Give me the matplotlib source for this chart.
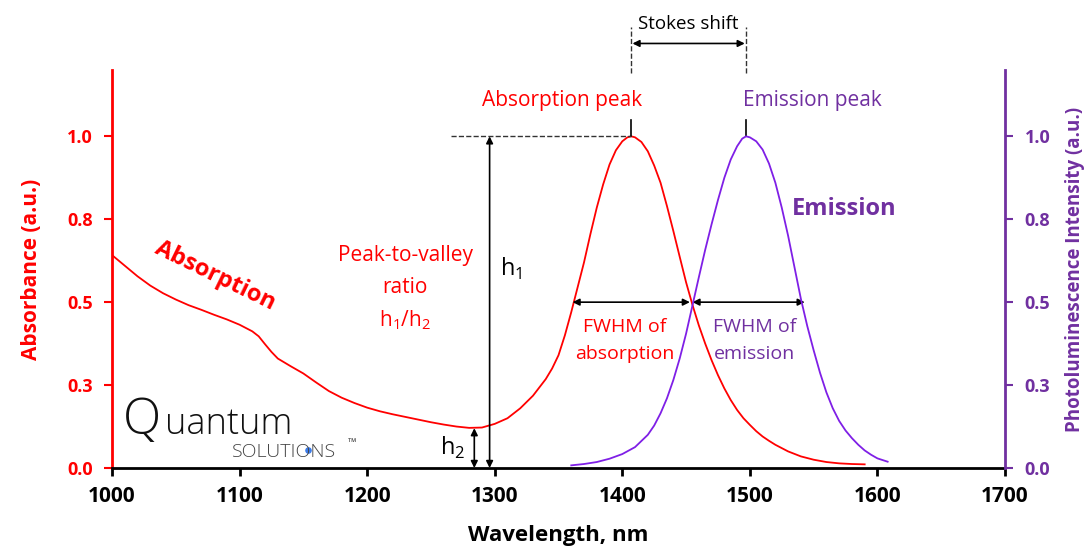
import matplotlib
matplotlib.use('Agg')
import matplotlib.pyplot as plt

plt.rcParams['font.family'] = ['Open Sans', 'DejaVu Sans']
plt.rcParams['mathtext.fontset'] = 'custom'
plt.rcParams['mathtext.rm'] = 'Open Sans'

# ---------------- data ----------------
abs_wl = [1000, 1010, 1020, 1030, 1040, 1050, 1060, 1070, 1080, 1090, 1100, 1110, 1115,
          1120, 1125, 1130, 1140, 1150, 1160, 1170, 1180, 1190, 1200, 1210, 1220, 1230,
          1240, 1250, 1260, 1270, 1280, 1290, 1300, 1310, 1320, 1330, 1340, 1345, 1350,
          1355, 1360, 1365, 1370, 1375, 1380, 1385, 1390, 1395, 1400, 1404, 1407, 1410,
          1415, 1420, 1425, 1430, 1435, 1440, 1445, 1450, 1455, 1460, 1465, 1470, 1475,
          1480, 1485, 1490, 1495, 1500, 1505, 1510, 1515, 1520, 1530, 1540, 1550, 1560,
          1570, 1580, 1590]
abs_val = [0.642, 0.610, 0.578, 0.550, 0.527, 0.508, 0.491, 0.477, 0.462, 0.448, 0.432, 0.412, 0.397,
           0.373, 0.350, 0.330, 0.307, 0.285, 0.258, 0.232, 0.212, 0.196, 0.182, 0.171, 0.162, 0.154,
           0.146, 0.138, 0.131, 0.125, 0.121, 0.122, 0.133, 0.150, 0.180, 0.218, 0.268, 0.300, 0.340,
           0.400, 0.470, 0.545, 0.620, 0.705, 0.785, 0.855, 0.915, 0.958, 0.985, 0.997, 1.000, 0.997,
           0.983, 0.955, 0.912, 0.860, 0.790, 0.715, 0.637, 0.560, 0.492, 0.430, 0.375, 0.325, 0.280,
           0.240, 0.205, 0.175, 0.150, 0.130, 0.111, 0.095, 0.082, 0.070, 0.050, 0.035, 0.025, 0.018,
           0.014, 0.012, 0.011]

em_wl = [1360, 1370, 1380, 1390, 1400, 1410, 1420, 1425, 1430, 1435, 1440, 1445, 1450, 1455,
         1460, 1465, 1470, 1475, 1480, 1485, 1490, 1494, 1497, 1500, 1505, 1510, 1515, 1520,
         1525, 1530, 1535, 1540, 1545, 1550, 1555, 1560, 1565, 1570, 1575, 1580, 1585, 1590,
         1595, 1600, 1608]
em_val = [0.008, 0.012, 0.018, 0.028, 0.042, 0.063, 0.100, 0.128, 0.165, 0.210, 0.265, 0.330, 0.405, 0.490,
          0.575, 0.658, 0.735, 0.808, 0.875, 0.930, 0.970, 0.993, 1.000, 0.997, 0.985, 0.960, 0.918, 0.860,
          0.785, 0.700, 0.605, 0.510, 0.428, 0.355, 0.287, 0.228, 0.180, 0.142, 0.113, 0.090, 0.070, 0.053,
          0.040, 0.029, 0.019]

x_ticks = [1000, 1100, 1200, 1300, 1400, 1500, 1600, 1700]
y_ticks = [0.0, 0.25, 0.5, 0.75, 1.0]
y_ticklabels = ['0.0', '0.3', '0.5', '0.8', '1.0']

abs_peak = 1407
em_peak = 1497
valley_wl = 1284
valley_val = 0.12
h1_wl = 1296
abs_fwhm = (1361, 1453)
em_fwhm = (1455, 1543)

RED = '#FF0000'
PURPLE_TXT = '#7030A0'
PURPLE_LINE = '#7F1FE6'

fig = plt.figure(figsize=(10.88, 5.49), dpi=100)
ax = fig.add_axes([112 / 1088, 81 / 549, 893 / 1088, 398 / 549])
ax2 = ax.twinx()

ax.plot(abs_wl, abs_val, color=RED, lw=1.3)
ax2.plot(em_wl, em_val, color=PURPLE_LINE, lw=1.3)

ax.set_xlim(1000, 1700)
ax.set_ylim(0, 1.2)
ax2.set_ylim(0, 1.2)

ax.set_xticks(x_ticks)
ax.set_xticklabels([str(t) for t in x_ticks], fontsize=15, fontweight='bold')
ax.set_yticks(y_ticks)
ax.set_yticklabels(y_ticklabels, fontsize=13, fontweight='bold', color=RED)
ax2.set_yticks(y_ticks)
ax2.set_yticklabels(y_ticklabels, fontsize=13, fontweight='bold', color=PURPLE_TXT)

for s in ['top', 'right']:
    ax.spines[s].set_visible(False)
for s in ['top', 'left', 'bottom']:
    ax2.spines[s].set_visible(False)
ax.spines['left'].set_color(RED)
ax.spines['left'].set_linewidth(2)
ax.spines['bottom'].set_color('black')
ax.spines['bottom'].set_linewidth(2)
ax2.spines['right'].set_color(PURPLE_TXT)
ax2.spines['right'].set_linewidth(2)

ax.tick_params(axis='x', direction='out', length=6, width=2, color='black', pad=7)
ax.tick_params(axis='y', direction='out', length=6, width=1.5, color=RED, pad=8)
ax2.tick_params(axis='y', direction='out', length=6, width=1.5, color=PURPLE_TXT, pad=8)

ax.set_xlabel('Wavelength, nm', fontsize=16, fontweight='bold', labelpad=13)
ax.set_ylabel('Absorbance (a.u.)', fontsize=15, fontweight='bold', color=RED, labelpad=18)
ax2.set_ylabel('Photoluminescence Intensity (a.u.)', fontsize=13.5, fontweight='bold',
               color=PURPLE_TXT, labelpad=11)

arrow = dict(arrowstyle='<|-|>', color='black', lw=1.2, mutation_scale=10, shrinkA=0, shrinkB=0)

# Stokes shift
ax.plot([abs_peak, abs_peak], [1.19, 1.33], ls='--', color='#333333', lw=1, clip_on=False)
ax.plot([em_peak, em_peak], [1.19, 1.33], ls='--', color='#333333', lw=1, clip_on=False)
ax.annotate('', xy=(em_peak - 1, 1.28), xytext=(abs_peak + 1, 1.28), arrowprops=arrow,
            annotation_clip=False)
ax.text((abs_peak + em_peak) / 2, 1.34, 'Stokes shift', fontsize=13.5, ha='center', va='center',
        clip_on=False)

# peak markers and labels
ax.plot([abs_peak, abs_peak], [1.0, 1.05], color='black', lw=1.2, clip_on=False)
ax.plot([em_peak, em_peak], [1.0, 1.05], color='black', lw=1.2, clip_on=False)
ax.text(1353, 1.108, 'Absorption peak', color=RED, fontsize=15, ha='center', va='center')
ax.text(1549, 1.108, 'Emission peak', color=PURPLE_TXT, fontsize=15, ha='center', va='center')

# peak-to-valley
ax.plot([1266, abs_peak], [1.0, 1.0], ls='--', color='#333333', lw=1)
ax.annotate('', xy=(h1_wl, 1.0), xytext=(h1_wl, 0.0), arrowprops=arrow, annotation_clip=False)
ax.annotate('', xy=(valley_wl, valley_val), xytext=(valley_wl, 0.0), arrowprops=arrow,
            annotation_clip=False)
ax.text(1313, 0.60, r'h$_\mathregular{1}$', fontsize=17, ha='center', va='center')
ax.text(1267, 0.06, r'h$_\mathregular{2}$', fontsize=17, ha='center', va='center')
ax.text(1230, 0.64, 'Peak-to-valley', color=RED, fontsize=15, ha='center', va='center')
ax.text(1230, 0.545, 'ratio', color=RED, fontsize=15, ha='center', va='center')
ax.text(1230, 0.445, r'h$_\mathregular{1}$/h$_\mathregular{2}$', color=RED, fontsize=15,
        ha='center', va='center')

# FWHM
ax.annotate('', xy=(abs_fwhm[1], 0.5), xytext=(abs_fwhm[0], 0.5), arrowprops=arrow)
ax.annotate('', xy=(em_fwhm[1], 0.5), xytext=(em_fwhm[0], 0.5), arrowprops=arrow)
ax.text(1402, 0.425, 'FWHM of', color=RED, fontsize=14, ha='center', va='center')
ax.text(1402, 0.345, 'absorption', color=RED, fontsize=14, ha='center', va='center')
ax.text(1504, 0.425, 'FWHM of', color=PURPLE_TXT, fontsize=14, ha='center', va='center')
ax.text(1504, 0.345, 'emission', color=PURPLE_TXT, fontsize=14, ha='center', va='center')

# series labels
ax.text(1081, 0.58, 'Absorption', color=RED, fontsize=17, fontweight='bold', rotation=-26,
        ha='center', va='center', rotation_mode='anchor')
ax.text(1574, 0.78, 'Emission', color=PURPLE_TXT, fontsize=17, fontweight='bold',
        ha='center', va='center')

# logo
fig.text(142 / 1088, 1 - 434 / 549, 'Q', fontsize=36, fontweight='light', ha='center',
         va='baseline', color='#111111')
fig.text(165 / 1088, 1 - 434 / 549, 'uantum', fontsize=26, fontweight='light', ha='left',
         va='baseline', color='#111111')
fig.text(232 / 1088, 1 - 452 / 549, 'SOLUTIONS', fontsize=14, fontweight='light', ha='left',
         va='center', color='#444444')
fig.text(352 / 1088, 1 - 443 / 549, '™', fontsize=8, ha='center', va='center', color='#444444')
ax.scatter([1153.5], [0.053], s=14, color='#3B7BEA', zorder=5, clip_on=False)

fig.savefig('out.png', dpi=100)
